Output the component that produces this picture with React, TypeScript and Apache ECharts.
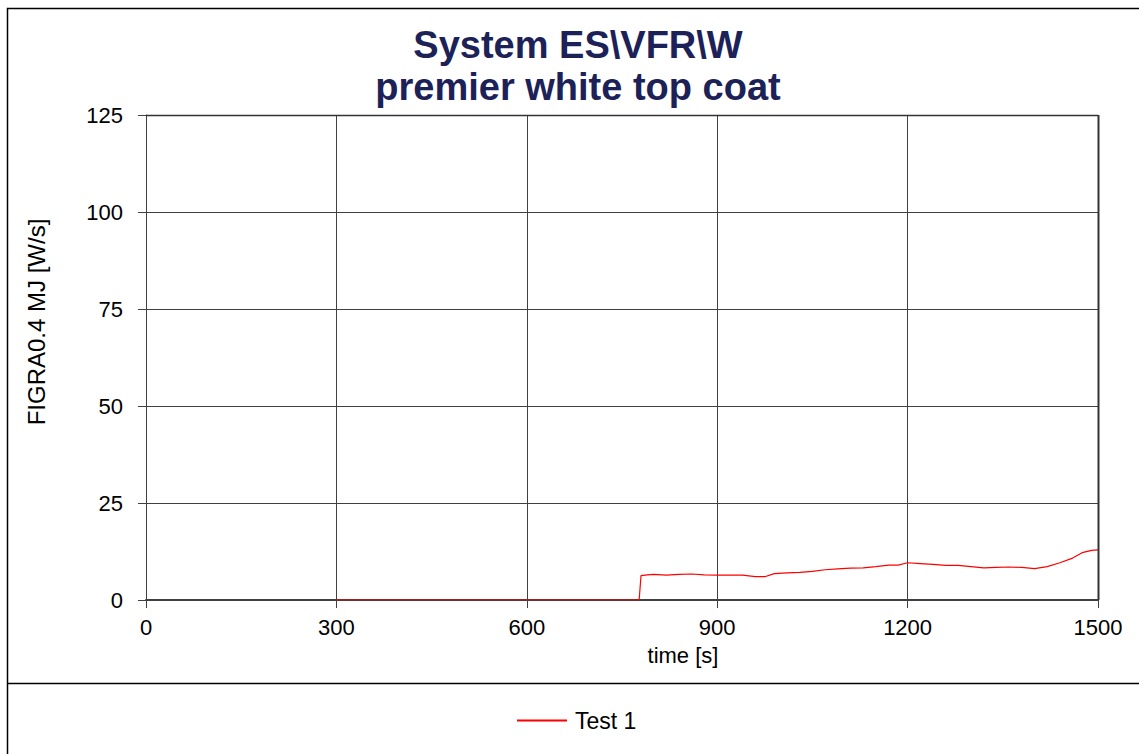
import React, { useEffect, useRef } from "react";
import * as echarts from "echarts";

const titleLines = ["System ES\\VFR\\W", "premier white top coat"];
const yAxisName = "FIGRA0.4 MJ [W/s]";
const xAxisName = "time [s]";
const seriesName = "Test 1";
const xTicks = [0, 300, 600, 900, 1200, 1500];
const yTicks = [0, 25, 50, 75, 100, 125];
const test1: [number, number][] = [
  [300, 0], [777, 0], [780, 6.3], [790, 6.5], [800, 6.6], [820, 6.4], [840, 6.6],
  [860, 6.7], [880, 6.5], [900, 6.4], [920, 6.4], [940, 6.4], [960, 6.0], [975, 6.0],
  [990, 6.8], [1010, 7.0], [1030, 7.1], [1050, 7.4], [1070, 7.8], [1090, 8.0],
  [1110, 8.2], [1130, 8.3], [1150, 8.6], [1170, 9.0], [1185, 9.0], [1200, 9.6],
  [1220, 9.4], [1240, 9.2], [1260, 8.9], [1280, 8.9], [1300, 8.6], [1320, 8.3],
  [1340, 8.4], [1360, 8.5], [1380, 8.4], [1400, 8.1], [1420, 8.6], [1440, 9.6],
  [1460, 10.8], [1475, 12.2], [1490, 12.8], [1500, 12.9],
];

const FONT = "Liberation Sans, Arial, sans-serif";

export default function App() {
  const ref = useRef<HTMLDivElement>(null);
  useEffect(() => {
    if (!ref.current) return;
    const chart = echarts.init(ref.current, undefined, { renderer: "svg" });
    chart.setOption({
      animation: false,
      backgroundColor: "#ffffff",
      textStyle: { fontFamily: FONT },
      title: {
        text: titleLines.join("\n"),
        left: 573,
        textAlign: "center",
        top: 19,
        textStyle: {
          fontFamily: FONT,
          fontSize: 38,
          fontWeight: "bold",
          color: "#1c2257",
          lineHeight: 42,
        },
      },
      grid: { left: 146, right: 41, top: 115, bottom: 154, containLabel: false },
      xAxis: {
        type: "value",
        min: xTicks[0],
        max: xTicks[xTicks.length - 1],
        interval: 300,
        axisLine: { show: true, onZero: false, lineStyle: { color: "#404040", width: 2 } },
        axisTick: { show: true, length: 8, lineStyle: { color: "#404040" } },
        axisLabel: {
          fontSize: 22,
          color: "#000",
          margin: 16,
          fontFamily: FONT,
          formatter: (v: number) => String(v),
        },
        splitLine: { show: true, lineStyle: { color: "#404040", width: 1 } },
      },
      yAxis: {
        type: "value",
        min: yTicks[0],
        max: yTicks[yTicks.length - 1],
        interval: 25,
        axisLine: { show: true, lineStyle: { color: "#404040", width: 1 } },
        axisTick: { show: true, length: 8, lineStyle: { color: "#404040" } },
        axisLabel: {
          fontSize: 22,
          color: "#000",
          margin: 23,
          fontFamily: FONT,
          formatter: (v: number) => String(v),
        },
        splitLine: { show: true, lineStyle: { color: "#404040", width: 1 } },
      },
      legend: {
        show: true,
        bottom: 17,
        left: 512,
        itemWidth: 50,
        itemHeight: 2,
        itemGap: 10,
        icon: "rect",
        textStyle: { fontSize: 23, color: "#000", fontFamily: FONT, padding: [0, 0, 0, 3] },
        data: [{ name: seriesName, itemStyle: { color: "#ff0000" } }],
      },
      graphic: [
        {
          type: "rect",
          shape: { x: 7.5, y: 8.5, width: 1140, height: 760 },
          style: { fill: "none", stroke: "#000", lineWidth: 1.5 },
          silent: true,
          z: 100,
        },
        {
          type: "line",
          shape: { x1: 7, y1: 683.5, x2: 1139, y2: 683.5 },
          style: { stroke: "#000", lineWidth: 1.5 },
          silent: true,
        },
        {
          type: "line",
          shape: { x1: 146, y1: 115.5, x2: 1098, y2: 115.5 },
          style: { stroke: "#333", lineWidth: 1.5 },
          silent: true,
          z: 50,
        },
        {
          type: "line",
          shape: { x1: 1098.5, y1: 115, x2: 1098.5, y2: 600 },
          style: { stroke: "#333", lineWidth: 2 },
          silent: true,
          z: 50,
        },
        {
          type: "text",
          x: 683,
          y: 655,
          style: {
            text: xAxisName,
            fontSize: 22,
            fontFamily: FONT,
            fill: "#000",
            align: "center",
            verticalAlign: "middle",
          },
        },
        {
          type: "text",
          x: 36,
          y: 322,
          rotation: Math.PI / 2,
          style: {
            text: yAxisName,
            fontSize: 24,
            fontFamily: FONT,
            fill: "#000",
            align: "center",
            verticalAlign: "middle",
          },
        },
      ],
      series: [
        {
          name: seriesName,
          type: "line",
          data: test1,
          showSymbol: false,
          symbol: "none",
          lineStyle: { color: "#ff0000", width: 1.2 },
          itemStyle: { color: "#ff0000" },
          z: 10,
        },
      ],
    });
    return () => chart.dispose();
  }, []);
  return (
    <div
      ref={ref}
      style={{ position: "absolute", left: 0, top: 0, width: 1139, height: 754 }}
    />
  );
}
